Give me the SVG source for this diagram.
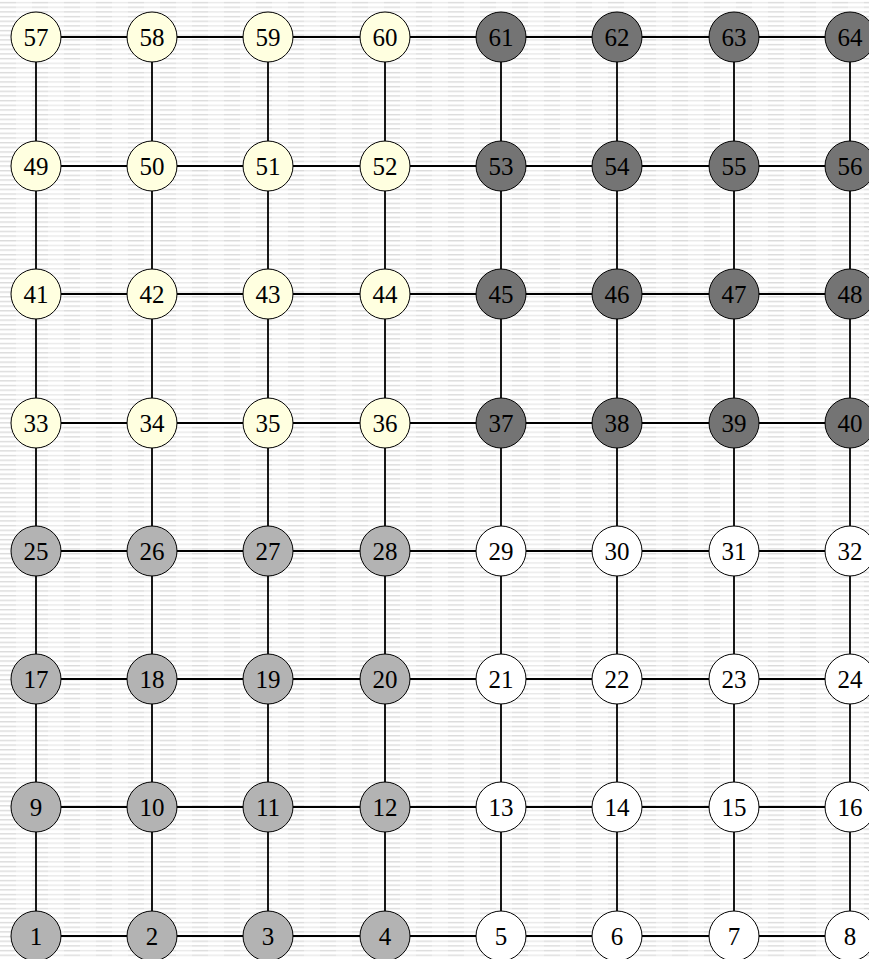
<svg xmlns="http://www.w3.org/2000/svg" width="869" height="959" viewBox="0 0 869 959">
<defs>
<pattern id="bg" x="0" y="0" width="32" height="4.67" patternUnits="userSpaceOnUse">
<rect x="0" y="0" width="32" height="4.67" fill="#ffffff"/>
<rect x="0" y="2" width="16" height="1.2" fill="#d6d6d6"/>
<rect x="16" y="2" width="16" height="1.2" fill="#e6e6e6"/>
</pattern>
</defs>
<style>
.e{stroke:#000;stroke-width:1.8;fill:none}
.n circle{stroke:#000;stroke-width:1}
.w{fill:#ffffff}.y{fill:#ffffe0}.g{fill:#b3b3b3}.d{fill:#747474}
text{font-family:"Liberation Serif","Times New Roman",serif;font-size:25px;fill:#000;text-anchor:middle;dominant-baseline:central}
</style>
<rect width="869" height="959" fill="url(#bg)"/>
<g id="edges">
<path class="e" d="M36,37H850M36,166H850M36,294H850M36,423H850M36,551H850M36,679H850M36,807H850M36,936H850"/>
<path class="e" d="M36,37V936M152,37V936M268,37V936M385,37V936M501,37V936M617,37V936M734,37V936M850,37V936"/>
</g>
<g id="n57" class="n"><circle class="y" cx="36" cy="37" r="25"/><text x="36" y="37">57</text></g>
<g id="n58" class="n"><circle class="y" cx="152" cy="37" r="25"/><text x="152" y="37">58</text></g>
<g id="n59" class="n"><circle class="y" cx="268" cy="37" r="25"/><text x="268" y="37">59</text></g>
<g id="n60" class="n"><circle class="y" cx="385" cy="37" r="25"/><text x="385" y="37">60</text></g>
<g id="n61" class="n"><circle class="d" cx="501" cy="37" r="25"/><text x="501" y="37">61</text></g>
<g id="n62" class="n"><circle class="d" cx="617" cy="37" r="25"/><text x="617" y="37">62</text></g>
<g id="n63" class="n"><circle class="d" cx="734" cy="37" r="25"/><text x="734" y="37">63</text></g>
<g id="n64" class="n"><circle class="d" cx="850" cy="37" r="25"/><text x="850" y="37">64</text></g>
<g id="n49" class="n"><circle class="y" cx="36" cy="166" r="25"/><text x="36" y="166">49</text></g>
<g id="n50" class="n"><circle class="y" cx="152" cy="166" r="25"/><text x="152" y="166">50</text></g>
<g id="n51" class="n"><circle class="y" cx="268" cy="166" r="25"/><text x="268" y="166">51</text></g>
<g id="n52" class="n"><circle class="y" cx="385" cy="166" r="25"/><text x="385" y="166">52</text></g>
<g id="n53" class="n"><circle class="d" cx="501" cy="166" r="25"/><text x="501" y="166">53</text></g>
<g id="n54" class="n"><circle class="d" cx="617" cy="166" r="25"/><text x="617" y="166">54</text></g>
<g id="n55" class="n"><circle class="d" cx="734" cy="166" r="25"/><text x="734" y="166">55</text></g>
<g id="n56" class="n"><circle class="d" cx="850" cy="166" r="25"/><text x="850" y="166">56</text></g>
<g id="n41" class="n"><circle class="y" cx="36" cy="294" r="25"/><text x="36" y="294">41</text></g>
<g id="n42" class="n"><circle class="y" cx="152" cy="294" r="25"/><text x="152" y="294">42</text></g>
<g id="n43" class="n"><circle class="y" cx="268" cy="294" r="25"/><text x="268" y="294">43</text></g>
<g id="n44" class="n"><circle class="y" cx="385" cy="294" r="25"/><text x="385" y="294">44</text></g>
<g id="n45" class="n"><circle class="d" cx="501" cy="294" r="25"/><text x="501" y="294">45</text></g>
<g id="n46" class="n"><circle class="d" cx="617" cy="294" r="25"/><text x="617" y="294">46</text></g>
<g id="n47" class="n"><circle class="d" cx="734" cy="294" r="25"/><text x="734" y="294">47</text></g>
<g id="n48" class="n"><circle class="d" cx="850" cy="294" r="25"/><text x="850" y="294">48</text></g>
<g id="n33" class="n"><circle class="y" cx="36" cy="423" r="25"/><text x="36" y="423">33</text></g>
<g id="n34" class="n"><circle class="y" cx="152" cy="423" r="25"/><text x="152" y="423">34</text></g>
<g id="n35" class="n"><circle class="y" cx="268" cy="423" r="25"/><text x="268" y="423">35</text></g>
<g id="n36" class="n"><circle class="y" cx="385" cy="423" r="25"/><text x="385" y="423">36</text></g>
<g id="n37" class="n"><circle class="d" cx="501" cy="423" r="25"/><text x="501" y="423">37</text></g>
<g id="n38" class="n"><circle class="d" cx="617" cy="423" r="25"/><text x="617" y="423">38</text></g>
<g id="n39" class="n"><circle class="d" cx="734" cy="423" r="25"/><text x="734" y="423">39</text></g>
<g id="n40" class="n"><circle class="d" cx="850" cy="423" r="25"/><text x="850" y="423">40</text></g>
<g id="n25" class="n"><circle class="g" cx="36" cy="551" r="25"/><text x="36" y="551">25</text></g>
<g id="n26" class="n"><circle class="g" cx="152" cy="551" r="25"/><text x="152" y="551">26</text></g>
<g id="n27" class="n"><circle class="g" cx="268" cy="551" r="25"/><text x="268" y="551">27</text></g>
<g id="n28" class="n"><circle class="g" cx="385" cy="551" r="25"/><text x="385" y="551">28</text></g>
<g id="n29" class="n"><circle class="w" cx="501" cy="551" r="25"/><text x="501" y="551">29</text></g>
<g id="n30" class="n"><circle class="w" cx="617" cy="551" r="25"/><text x="617" y="551">30</text></g>
<g id="n31" class="n"><circle class="w" cx="734" cy="551" r="25"/><text x="734" y="551">31</text></g>
<g id="n32" class="n"><circle class="w" cx="850" cy="551" r="25"/><text x="850" y="551">32</text></g>
<g id="n17" class="n"><circle class="g" cx="36" cy="679" r="25"/><text x="36" y="679">17</text></g>
<g id="n18" class="n"><circle class="g" cx="152" cy="679" r="25"/><text x="152" y="679">18</text></g>
<g id="n19" class="n"><circle class="g" cx="268" cy="679" r="25"/><text x="268" y="679">19</text></g>
<g id="n20" class="n"><circle class="g" cx="385" cy="679" r="25"/><text x="385" y="679">20</text></g>
<g id="n21" class="n"><circle class="w" cx="501" cy="679" r="25"/><text x="501" y="679">21</text></g>
<g id="n22" class="n"><circle class="w" cx="617" cy="679" r="25"/><text x="617" y="679">22</text></g>
<g id="n23" class="n"><circle class="w" cx="734" cy="679" r="25"/><text x="734" y="679">23</text></g>
<g id="n24" class="n"><circle class="w" cx="850" cy="679" r="25"/><text x="850" y="679">24</text></g>
<g id="n9" class="n"><circle class="g" cx="36" cy="807" r="25"/><text x="36" y="807">9</text></g>
<g id="n10" class="n"><circle class="g" cx="152" cy="807" r="25"/><text x="152" y="807">10</text></g>
<g id="n11" class="n"><circle class="g" cx="268" cy="807" r="25"/><text x="268" y="807">11</text></g>
<g id="n12" class="n"><circle class="g" cx="385" cy="807" r="25"/><text x="385" y="807">12</text></g>
<g id="n13" class="n"><circle class="w" cx="501" cy="807" r="25"/><text x="501" y="807">13</text></g>
<g id="n14" class="n"><circle class="w" cx="617" cy="807" r="25"/><text x="617" y="807">14</text></g>
<g id="n15" class="n"><circle class="w" cx="734" cy="807" r="25"/><text x="734" y="807">15</text></g>
<g id="n16" class="n"><circle class="w" cx="850" cy="807" r="25"/><text x="850" y="807">16</text></g>
<g id="n1" class="n"><circle class="g" cx="36" cy="936" r="25"/><text x="36" y="936">1</text></g>
<g id="n2" class="n"><circle class="g" cx="152" cy="936" r="25"/><text x="152" y="936">2</text></g>
<g id="n3" class="n"><circle class="g" cx="268" cy="936" r="25"/><text x="268" y="936">3</text></g>
<g id="n4" class="n"><circle class="g" cx="385" cy="936" r="25"/><text x="385" y="936">4</text></g>
<g id="n5" class="n"><circle class="w" cx="501" cy="936" r="25"/><text x="501" y="936">5</text></g>
<g id="n6" class="n"><circle class="w" cx="617" cy="936" r="25"/><text x="617" y="936">6</text></g>
<g id="n7" class="n"><circle class="w" cx="734" cy="936" r="25"/><text x="734" y="936">7</text></g>
<g id="n8" class="n"><circle class="w" cx="850" cy="936" r="25"/><text x="850" y="936">8</text></g>
</svg>
